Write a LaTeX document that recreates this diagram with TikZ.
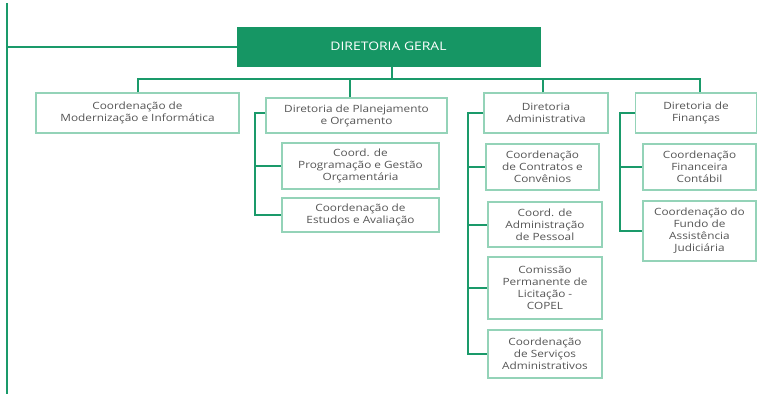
\documentclass[tikz,border=0pt]{standalone}
\usepackage{fontspec}
\setmainfont{Open Sans}[FakeStretch=1.18]
\definecolor{dkgreen}{HTML}{1A9A6A}
\definecolor{dgfill}{HTML}{169664}
\definecolor{ltgreen}{HTML}{94D3B8}
\definecolor{txtgray}{HTML}{555555}
\begin{document}
\begin{tikzpicture}[x=1pt,y=-1pt,
  box/.style={draw=ltgreen, line width=1.4pt, fill=white, text=txtgray, align=center,
    inner sep=0pt, font=\fontsize{10}{12}\selectfont},
  link/.style={draw=dkgreen, line width=2pt}]
\useasboundingbox (0,0) rectangle (758,394);
% main
\node[fill=dgfill, draw=dgfill, text=white, minimum width=303pt, minimum height=39pt, inner sep=0pt,
  font=\fontsize{11.8}{14}\selectfont] (dg) at (388.5,46.5) {DIRETORIA GERAL};
% level 1
\node[box, minimum width=203pt, minimum height=40pt] (b1) at (137.5,113) {Coordenação de\\Modernização e Informática};
\node[box, minimum width=181pt, minimum height=35pt] (b2) at (356.5,115.5) {Diretoria de Planejamento\\e Orçamento};
\node[box, minimum width=124pt, minimum height=40pt] (b3) at (546,113) {Diretoria\\Administrativa};
\node[box, minimum width=121pt, minimum height=40pt] (b4) at (696,113) {Diretoria de\\Finanças};
% planejamento children
\node[box, minimum width=157pt, minimum height=46pt] (p1) at (360.5,166) {Coord. de\\Programação e Gestão\\Orçamentária};
\node[box, minimum width=157pt, minimum height=34pt] (p2) at (360.5,215) {Coordenação de\\Estudos e Avaliação};
% administrativa children
\node[box, minimum width=113pt, minimum height=46pt] (a1) at (542.5,167) {Coordenação\\de Contratos e\\Convênios};
\node[box, minimum width=114pt, minimum height=45pt] (a2) at (545,224.5) {Coord. de\\Administração\\de Pessoal};
\node[box, minimum width=114pt, minimum height=62pt] (a3) at (545,288) {Comissão\\Permanente de\\Licitação -\\COPEL};
\node[box, minimum width=114pt, minimum height=48pt] (a4) at (545,354) {Coordenação\\de Serviços\\Administrativos};
% financas children
\node[box, minimum width=113pt, minimum height=46pt] (f1) at (699.5,167) {Coordenação\\Financeira\\Contábil};
\node[box, minimum width=113pt, minimum height=60pt] (f2) at (699.5,231) {Coordenação do\\Fundo de\\Assistência\\Judiciária};
% coordinates
\coordinate (lt) at (7,3);
\coordinate (lb) at (7,394);
\coordinate (bus) at (392,79);
\coordinate (t2) at (255,113);
\coordinate (t3) at (468,113);
\coordinate (t4) at (620,113);
% links
\draw[link] (lt) -- (lb);
\draw[link] (lt |- dg.west) -- (dg.west);
\draw[link] (dg.south -| bus) -- (bus);
\draw[link] (b1.north) |- (bus);
\draw[link] (bus) -| ([xshift=4pt]b4.north);
\draw[link] (b2.north -| 350,0) -- (bus -| 350,0);
\draw[link] (b3.north -| 543,0) -- (bus -| 543,0);
\draw[link] (b2.west |- t2) -- (t2) |- (p2.west);
\draw[link] (t2) |- (p1.west);
\draw[link] (b3.west |- t3) -- (t3) |- (a4.west);
\draw[link] (t3) |- (a1.west);
\draw[link] (t3) |- (a2.west);
\draw[link] (t3) |- (a3.west);
\draw[link] (b4.west |- t4) -- (t4) |- (f2.west);
\draw[link] (t4) |- (f1.west);
\end{tikzpicture}
\end{document}
